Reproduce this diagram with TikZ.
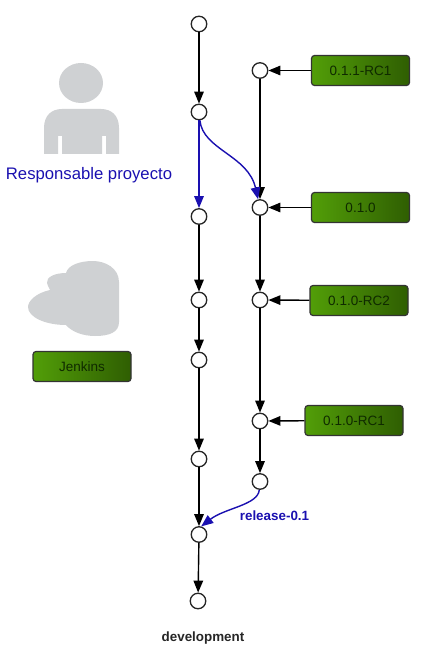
\documentclass[tikz,border=0pt]{standalone}
\usepackage{fontspec}
\setmainfont{Liberation Sans}
\usetikzlibrary{arrows.meta}
\definecolor{gitblue}{HTML}{1A10B0}
\definecolor{iconGray}{HTML}{CFD1D3}
\definecolor{tagL}{HTML}{529E08}
\definecolor{tagR}{HTML}{2F5E02}
\definecolor{tagT}{HTML}{0F2A00}
\tikzset{
  commit/.style={circle,draw=black!85,line width=1.3pt,fill=white,minimum size=15.5pt,inner sep=0pt},
  tagbox/.style={draw=black!80,line width=1.2pt,rounded corners=3pt,left color=tagL,right color=tagR,minimum width=98pt,minimum height=30pt,inner sep=0pt,font=\fontsize{13.5}{15}\selectfont,text=tagT},
  link/.style={draw=black,line width=1.4pt,-{Triangle[length=12pt,width=9.5pt]}},
  bluelink/.style={draw=gitblue,line width=1.4pt,-{Triangle[length=12pt,width=9.5pt]}},
}
\begin{document}
\begin{tikzpicture}[x=1pt,y=-1pt]
\useasboundingbox (0,0) rectangle (424,660);
% person icon
\fill[iconGray] (81,83) ellipse[x radius=22,y radius=20];
\fill[iconGray] (44,154) -- (44,128) .. controls (44,115) and (52,109) .. (62,109) -- (101,109) .. controls (111,109) and (119,115) .. (119,128) -- (119,154) -- (106,154) -- (106,136) -- (102,136) -- (102,154) -- (62,154) -- (62,136) -- (58,136) -- (58,154) -- cycle;
\node[text=gitblue,font=\fontsize{16.7}{18}\selectfont,inner sep=0pt] (resp) at (89,175.5) {Responsable proyecto};
% cloud
\fill[iconGray] (119,282) .. controls (119,268) and (105,261) .. (93,261) .. controls (80,261) and (68,265) .. (66,273) .. controls (55,273) and (46,277) .. (47,283) .. controls (48,287) and (50,289) .. (50,290) .. controls (36,293) and (28,301) .. (28,307) .. controls (28,317) and (45,325) .. (66,325) .. controls (72,332) and (83,336) .. (95,336) .. controls (110,336) and (119,332) .. (119,322) -- cycle;
\node[tagbox] (jenkins) at (82,366.5) {Jenkins};
% commits left
\node[commit] (a1) at (199,24) {};
\node[commit] (a2) at (199,112) {};
\node[commit] (a3) at (199,216.5) {};
\node[commit] (a4) at (199,300) {};
\node[commit] (a5) at (199,360) {};
\node[commit] (a6) at (199,459) {};
\node[commit] (a7) at (199,534.5) {};
\node[commit] (a8) at (198,601) {};
% commits right
\node[commit] (b1) at (260,70.5) {};
\node[commit] (b2) at (260,207.5) {};
\node[commit] (b3) at (260,300) {};
\node[commit] (b4) at (260,421) {};
\node[commit] (b5) at (260,481.5) {};
% tags
\node[tagbox] (t1) at (360.5,70.5) {0.1.1-RC1};
\node[tagbox] (t2) at (360.5,207.5) {0.1.0};
\node[tagbox] (t3) at (359,300.5) {0.1.0-RC2};
\node[tagbox] (t4) at (354,420.5) {0.1.0-RC1};
% left line
\draw[link] (a1) -- (a2);
\draw[bluelink] (a2) -- (a3);
\draw[link] (a3) -- (a4);
\draw[link] (a4) -- (a5);
\draw[link] (a5) -- (a6);
\draw[link] (a6) -- (a7);
\draw[link] (a7) -- (a8);
% right line
\draw[link] (b1) -- (b2);
\draw[link] (b2) -- (b3);
\draw[link] (b3) -- (b4);
\draw[link] (b4) -- (b5);
% tag arrows
\draw[link] (t1) -- (b1);
\draw[link] (t2) -- (b2);
\draw[link] (t3) -- (b3);
\draw[link] (t4) -- (b4);
% merges
\draw[bluelink] (a2) .. controls (203,150) and (248,155) .. (b2);
\draw[bluelink] (b5) .. controls (258,505) and (225,508) .. (a7.75);
% labels
\node[text=gitblue,font=\fontsize{13.4}{15}\selectfont\bfseries,inner sep=0pt] (rel) at (274.5,516) {release-0.1};
\node[text=black!85,font=\fontsize{13.4}{15}\selectfont\bfseries,inner sep=0pt] (dev) at (203,638) {development};
\end{tikzpicture}
\end{document}
